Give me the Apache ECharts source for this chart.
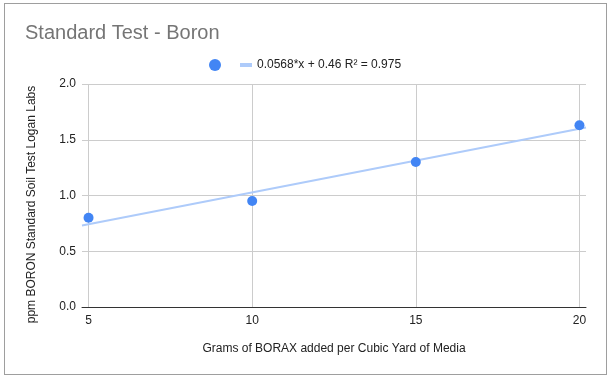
<!DOCTYPE html>
<html>
<head>
<meta charset="utf-8">
<script src="https://cdn.jsdelivr.net/npm/echarts@6/dist/echarts.min.js"></script>
<style>
  html, body { margin: 0; padding: 0; background: #fff; }
  .frame { position: absolute; left: 4px; top: 3px; width: 601px; height: 370px; border: 1px solid #9e9e9e; }
  #chart { position: absolute; left: 0; top: 0; width: 611px; height: 378px; }
</style>
</head>
<body>
<div class="frame"></div>
<div id="chart"></div>
<script>
// grams of borax per cubic yard
const grams = [5, 10, 15, 20];
// ppm boron measured
const boron = [0.80, 0.95, 1.30, 1.63];
// trendline ends
const trendX = [4.8, 20.2];
const trendY = [0.73, 1.61];
const xTicks = [5, 10, 15, 20];
const trendName = '0.0568*x + 0.46 R² = 0.975';

const font = 'Liberation Sans, Arial, sans-serif';
const chart = echarts.init(document.getElementById('chart'));

chart.setOption({
  animation: false,
  textStyle: { fontFamily: font },
  title: {
    text: 'Standard Test - Boron',
    left: 20,
    top: 18,
    textStyle: { color: '#757575', fontSize: 20, fontWeight: 'normal', fontFamily: font },
  },
  legend: [
    {
      left: 204,
      top: 54,
      itemWidth: 12,
      itemHeight: 12,
      data: [{ name: ' ', icon: 'circle', itemStyle: { color: '#4285f4', opacity: 1 } }],
      textStyle: { fontSize: 1 },
    },
    {
      left: 235,
      top: 54,
      itemWidth: 12,
      itemHeight: 4,
      data: [{ name: trendName, icon: 'rect' }],
      textStyle: { color: '#222', fontSize: 12, fontFamily: font },
    },
  ],
  grid: { left: 82, right: 25, top: 84, bottom: 71 },
  xAxis: {
    type: 'value',
    min: 4.8,
    max: 20.2,
    name: 'Grams of BORAX added per Cubic Yard of Media',
    nameLocation: 'middle',
    nameGap: 36,
    nameTextStyle: { color: '#222', fontSize: 12, fontFamily: font },
    axisLine: { show: true, lineStyle: { color: '#333', width: 1 } },
    axisTick: { show: false, customValues: xTicks },
    axisLabel: { customValues: xTicks, color: '#222', fontSize: 12, margin: 8 },
    splitLine: { show: true, lineStyle: { color: '#ccc', width: 1 } },
  },
  yAxis: {
    type: 'value',
    min: 0,
    max: 2,
    interval: 0.5,
    name: 'ppm BORON Standard Soil Test Logan Labs',
    nameLocation: 'middle',
    nameGap: 44,
    nameTextStyle: { color: '#222', fontSize: 12, fontFamily: font, padding: [0, 18, 0, 0] },
    axisLine: { show: false },
    axisTick: { show: false },
    axisLabel: { color: '#222', fontSize: 12, margin: 6, formatter: (v) => v.toFixed(1) },
    splitLine: { show: true, lineStyle: { color: '#ccc', width: 1 } },
  },
  series: [
    {
      name: trendName,
      type: 'line',
      data: trendX.map((x, i) => [x, trendY[i]]),
      showSymbol: false,
      symbol: 'none',
      lineStyle: { color: '#aecbfa', width: 2 },
      itemStyle: { color: '#aecbfa' },
      z: 1,
    },
    {
      name: ' ',
      type: 'scatter',
      data: grams.map((g, i) => [g, boron[i]]),
      symbolSize: 10,
      itemStyle: { color: '#4285f4', opacity: 1 },
      z: 3,
    },
  ],
});
</script>
</body>
</html>
